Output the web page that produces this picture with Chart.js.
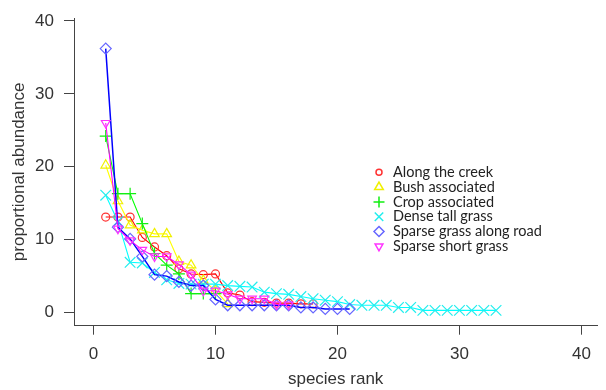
<!DOCTYPE html>
<html><head><meta charset="utf-8">
<script src="https://cdn.jsdelivr.net/npm/chart.js@4/dist/chart.umd.min.js"></script>
<style>html,body{margin:0;padding:0;background:#fff;}</style>
</head><body>
<canvas id="c" width="606" height="390"></canvas>
<script>
const ranks = [1,2,3,4,5,6,7,8,9,10,11,12,13,14,15,16,17,18,19,20,21,22,23,24,25,26,27,28,29,30,31,32,33];
const seriesNames = ['Along the creek','Bush associated','Crop associated','Dense tall grass','Sparse grass along road','Sparse short grass'];
const alongCreek   = [13.1,13.1,13.1,10.3,9.0,7.8,6.0,5.3,5.2,5.3,2.7,2.4,1.5,1.4,1.3,1.3,1.2,1.2];
const bushAssoc    = [20.2,15.3,12.0,11.3,10.8,10.8,7.0,6.5,4.4,3.0,1.2];
const cropAssoc    = [24.2,16.3,16.3,12.2,8.1,6.5,5.3,2.6,2.6,2.6];
const denseTall    = [16.1,12.5,6.9,6.8,5.5,4.5,4.0,3.9,3.9,3.9,3.7,3.6,3.5,2.8,2.6,2.5,2.2,1.9,1.7,1.5,1.1,1.0,1.0,1.0,0.7,0.7,0.3,0.3,0.3,0.3,0.3,0.3,0.3];
const sparseRoad   = [36.2,11.7,10.1,7.7,5.2,5.0,4.2,3.7,3.7,1.8,1.0,1.0,1.0,1.0,1.0,1.0,0.7,0.7,0.5,0.5,0.5];
const sparseShort  = [26.0,11.5,9.9,8.6,7.7,7.7,6.6,5.2,3.0,3.0,2.5,1.9,1.9,1.9,1.1,1.1];
const xTicks = [0,10,20,30,40];
const yTicks = [0,10,20,30,40];

const allValues = [alongCreek,bushAssoc,cropAssoc,denseTall,sparseRoad,sparseShort];
const colors  = ['#FF0000','#FFFF00','#00FF00','#00FFFF','#0000FF','#FF00FF'];
const markerColors = ['#FF3333','#F0F000','#11EE11','#22EEEE','#6666FF','#FF33FF'];
const markers = ['circle','triangle','cross','crossRot','rectRot','triangle'];
const rotations = [0,0,0,0,0,180];
const radii = [4,5.5,6,7.5,5.5,5];
const legendRadii = [3,5,5.5,6,5,4.5];

const datasets = allValues.map((vals,i)=>({
  label: seriesNames[i],
  data: vals.map((v,j)=>({x: ranks[j], y: v})),
  borderColor: colors[i],
  borderWidth: i===4 ? 1.5 : 1.1,
  pointStyle: markers[i],
  pointRotation: rotations[i],
  pointRadius: radii[i],
  pointBorderColor: markerColors[i],
  pointBackgroundColor: 'rgba(0,0,0,0)',
  pointBorderWidth: 1.2,
  tension: 0,
  fill: false,
  clip: false,
  order: 6 - i
}));

const legendPlugin = {
  id: 'innerLegend',
  afterDatasetsDraw(chart){
    const ctx = chart.ctx;
    ctx.save();
    const x0 = 379, y0 = 172.3, dy = 14.8;
    seriesNames.forEach((name,i)=>{
      const y = y0 + i*dy;
      ctx.strokeStyle = markerColors[i];
      ctx.fillStyle = 'rgba(0,0,0,0)';
      ctx.lineWidth = 1.5;
      if (Chart.helpers && Chart.helpers.drawPoint) {
        Chart.helpers.drawPoint(ctx, {pointStyle: markers[i], rotation: rotations[i], radius: legendRadii[i], borderWidth: 1.5}, x0, y);
      } else {
        ctx.beginPath(); ctx.arc(x0,y,3.5,0,Math.PI*2); ctx.stroke();
      }
      ctx.fillStyle = '#222';
      ctx.font = '14.5px Lato';
      ctx.textAlign = 'left';
      ctx.textBaseline = 'middle';
      ctx.fillText(name, 393, y);
    });
    ctx.restore();
  }
};

new Chart(document.getElementById('c'), {
  type: 'line',
  data: { datasets },
  options: {
    responsive: false,
    animation: false,
    devicePixelRatio: 1,
    layout: { padding: { top: 18, right: 0, bottom: 0, left: 0 } },
    plugins: { legend: { display: false }, tooltip: { enabled: false } },
    scales: {
      x: {
        type: 'linear', min: -1.6, max: 41.3,
        afterBuildTicks: s => { s.ticks = xTicks.map(v=>({value:v})); },
        afterFit: s => { s.height = 64.3; s.paddingLeft = 0; s.paddingRight = 0; },
        grid: { drawOnChartArea: false, drawTicks: true, tickLength: 9, tickColor: '#444', tickWidth: 1 },
        border: { display: true, color: '#444', width: 1 },
        ticks: { color: '#333', font: { family: 'Liberation Sans', size: 17 }, padding: 9, maxRotation: 0 },
        title: { display: true, text: 'species rank', color: '#333', font: { family: 'Liberation Sans', size: 17 }, padding: { top: 0, bottom: 0 } }
      },
      y: {
        type: 'linear', min: -1.8, max: 40.4,
        afterBuildTicks: s => { s.ticks = yTicks.map(v=>({value:v})); },
        afterFit: s => { s.width = 74; s.paddingTop = 0; s.paddingBottom = 0; },
        grid: { drawOnChartArea: false, drawTicks: true, tickLength: 10, tickColor: '#444', tickWidth: 1 },
        border: { display: true, color: '#444', width: 1 },
        ticks: { color: '#333', font: { family: 'Liberation Sans', size: 17 }, padding: 10 },
        title: { display: true, text: 'proportional abundance', color: '#333', font: { family: 'Liberation Sans', size: 17 }, padding: { top: 9, bottom: 0 } }
      }
    }
  },
  plugins: [legendPlugin]
});
</script>
</body></html>
